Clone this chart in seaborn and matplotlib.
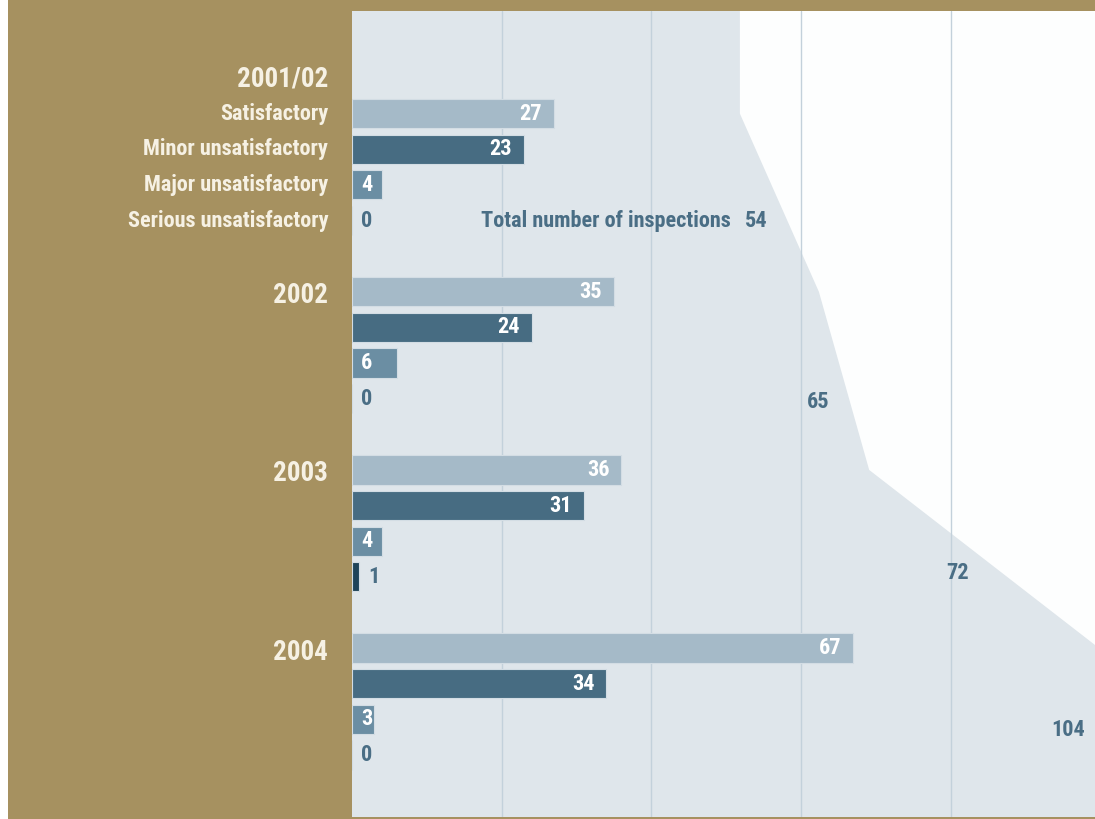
import numpy as np
import pandas as pd
import matplotlib
matplotlib.use("Agg")
import matplotlib.pyplot as plt
from matplotlib import font_manager
import seaborn as sns

# ---- data -------------------------------------------------------------
years = ["2001/02", "2002", "2003", "2004"]
categories = ["Satisfactory", "Minor unsatisfactory",
              "Major unsatisfactory", "Serious unsatisfactory"]
satisfactory = [27, 35, 36, 67]
minor_unsat = [23, 24, 31, 34]
major_unsat = [4, 6, 4, 3]
serious_unsat = [0, 0, 1, 0]
totals = [54, 65, 72, 104]

# ---- style ------------------------------------------------------------
sns.set_theme(style="white")


def pick_condensed_family():
    """First condensed sans family that ships a static bold face."""
    wanted = ["Liberation Sans Narrow", "Arial Narrow", "Roboto Condensed",
              "IBM Plex Sans Condensed", "PT Sans Narrow", "Asap Condensed",
              "Fira Sans Condensed", "Barlow Semi Condensed"]
    entries = font_manager.fontManager.ttflist
    for name in wanted:
        for f in entries:
            w = f.weight if isinstance(f.weight, int) else 400
            if f.name == name and w >= 700 and "[" not in f.fname:
                return name
    return "DejaVu Sans"


FAMILY = pick_condensed_family()
plt.rcParams["font.family"] = [FAMILY, "DejaVu Sans"]
if FAMILY == "DejaVu Sans":
    plt.rcParams["font.stretch"] = "condensed"

GOLD = "#A69160"
PANEL = "#DFE6EB"
CREAM = "#F6F1E4"
TEXT_BLUE = "#4A6E85"
GRID = "#C3D1DB"
palette = {
    "Satisfactory": "#A5BAC8",
    "Minor unsatisfactory": "#476C82",
    "Major unsatisfactory": "#6B8EA3",
    "Serious unsatisfactory": "#1F4459",
}

# each year occupies four bar rows; a blank row separates the years
series = [satisfactory, minor_unsat, major_unsat, serious_unsat]
rows = []
for gi, year in enumerate(years):
    first = 1 + gi * 5
    for ci, cat in enumerate(categories):
        rows.append({"year": year, "category": cat,
                     "value": series[ci][gi], "slot": first + ci})
df = pd.DataFrame(rows)

fig = plt.figure(figsize=(10.95, 8.19), dpi=100, facecolor=GOLD)
# narrow white margin on the far left
fig.patches.append(plt.Rectangle((0, 0), 8 / 1095, 1,
                                 transform=fig.transFigure, facecolor="white",
                                 edgecolor="none", zorder=-10))

AX_LEFT_PX, AX_W_PX = 352, 1095 - 352
ax = fig.add_axes([AX_LEFT_PX / 1095, 2 / 819, AX_W_PX / 1095, (817 - 11) / 819])
ax.set_facecolor("#FDFEFE")

XMAX = 99.3

# shaded area tracing the total number of inspections per year
area_scale = 0.96
first_slots = [1 + gi * 5 for gi in range(len(years))]
top, bottom = -1.88, 20.74
px = [0, totals[0] * area_scale]
py = [top, top]
for t, s in zip(totals, first_slots):
    px.append(t * area_scale)
    py.append(s)
px += [totals[-1] * area_scale, 0]
py += [bottom, bottom]
ax.fill(px, py, color=PANEL, zorder=0.5, lw=0)

for gx in (20, 40, 60, 80):
    ax.axvline(gx, color=GRID, lw=1.0, zorder=0.8)

sns.barplot(data=df, x="value", y="slot", hue="category", orient="h",
            native_scale=True, dodge=False, palette=palette, saturation=1,
            width=0.82, edgecolor="#D3DDE4", linewidth=0.8, legend=False,
            ax=ax, zorder=2)

ax.set_xlim(0, XMAX)
ax.set_ylim(bottom, top)

FS = 16
# value labels: two-digit values sit at the bar end, single digits at its
# start, and empty/tiny bars get a label just outside
for _, r in df.iterrows():
    v = r["value"]
    if v >= 10:
        ax.annotate(f"{v}", xy=(v, r["slot"]), xytext=(-12, 0),
                    textcoords="offset pixels", ha="right", va="center",
                    color="white", fontsize=FS, fontweight="bold", zorder=3)
    elif v >= 3:
        ax.annotate(f"{v}", xy=(0, r["slot"]), xytext=(9, 0),
                    textcoords="offset pixels", ha="left", va="center",
                    color="white", fontsize=FS, fontweight="bold", zorder=3)
    else:
        ax.annotate(f"{v}", xy=(v, r["slot"]), xytext=(9, 0),
                    textcoords="offset pixels", ha="left", va="center",
                    color=TEXT_BLUE, fontsize=FS, fontweight="bold", zorder=3)

# total labels
total_pos = [(54.0, 4.0), (62.3, 9.1), (80.9, 13.9), (95.7, 18.3)]
for t, (tx, ty) in zip(totals, total_pos):
    ax.text(tx, ty, f"{t}", ha="center", va="center", color=TEXT_BLUE,
            fontsize=FS, fontweight="bold", zorder=3)
ax.annotate("Total number of inspections", xy=total_pos[0], xytext=(-25, 0),
            textcoords="offset pixels", ha="right", va="center",
            color=TEXT_BLUE, fontsize=FS, fontweight="bold", zorder=3)

# left-hand labels
for gi, year in enumerate(years):
    s = 0 if gi == 0 else first_slots[gi]
    dy = -1 if gi == 0 else -4
    ax.annotate(year, xy=(0, s), xycoords=("axes fraction", "data"),
                xytext=(-24, dy), textcoords="offset pixels", ha="right",
                va="center", color=CREAM, fontsize=19.5, fontweight="bold",
                annotation_clip=False)
for ci, cat in enumerate(categories):
    ax.annotate(cat, xy=(0, 1 + ci), xycoords=("axes fraction", "data"),
                xytext=(-24, 0), textcoords="offset pixels", ha="right",
                va="center", color=CREAM, fontsize=FS, fontweight="bold",
                annotation_clip=False)

ax.set_xlabel("")
ax.set_ylabel("")
ax.set_xticks([])
ax.set_yticks([])
for sp in ax.spines.values():
    sp.set_visible(False)

fig.savefig("out.png", dpi=100, facecolor=GOLD)
